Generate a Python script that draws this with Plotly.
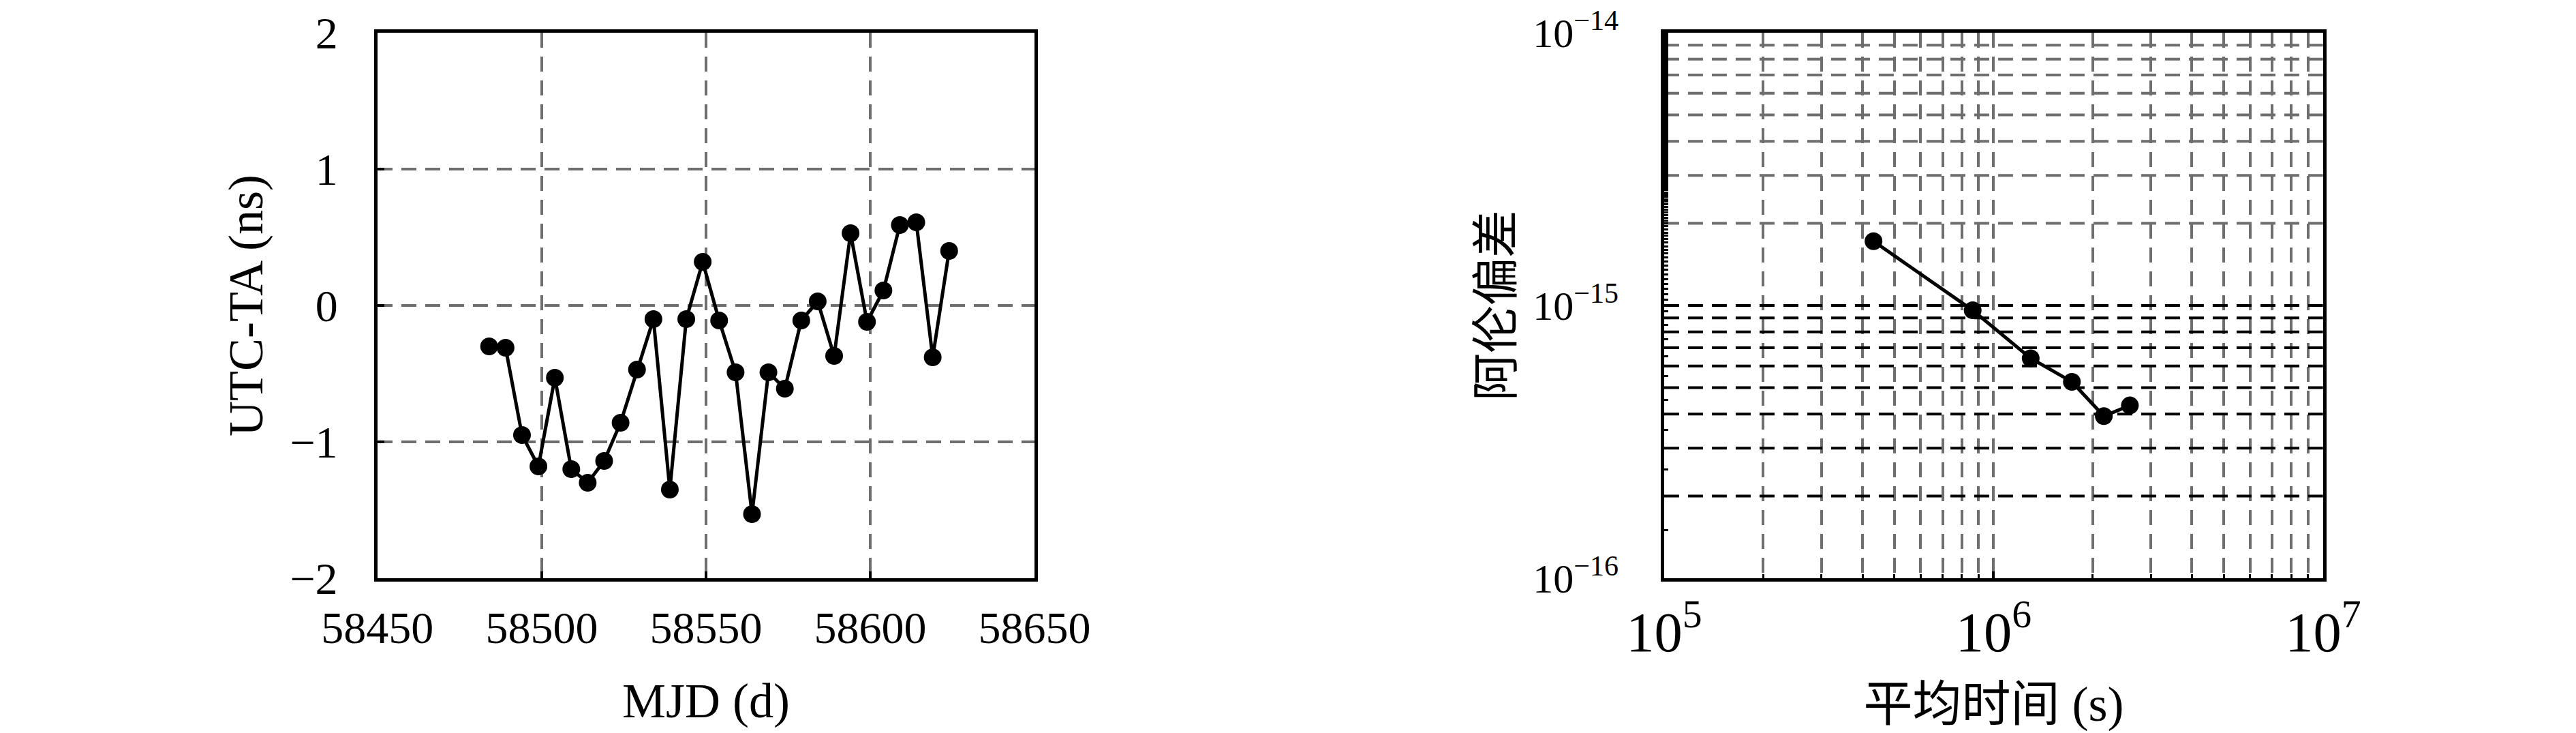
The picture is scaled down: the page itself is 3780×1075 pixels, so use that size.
import plotly.graph_objects as go

# left panel: UTC-TA vs MJD
mjd = [58484, 58489, 58494, 58499, 58504, 58509, 58514, 58519, 58524, 58529,
       58534, 58539, 58544, 58549, 58554, 58559, 58564, 58569, 58574, 58579,
       58584, 58589, 58594, 58599, 58604, 58609, 58614, 58619, 58624]
utc_ta = [-0.30, -0.31, -0.95, -1.18, -0.53, -1.20, -1.30, -1.14, -0.86, -0.47,
          -0.10, -1.35, -0.10, 0.32, -0.11, -0.49, -1.53, -0.49, -0.61, -0.11,
          0.03, -0.37, 0.53, -0.12, 0.11, 0.59, 0.61, -0.38, 0.40]

# right panel: Allan deviation vs averaging time
tau = [4.32e5, 8.64e5, 1.296e6, 1.728e6, 2.16e6, 2.592e6]
adev = [1.72e-15, 9.6e-16, 6.4e-16, 5.25e-16, 3.93e-16, 4.3e-16]

y_grid_upper = [2e-15, 3e-15, 4e-15, 5e-15, 6e-15, 7e-15, 8e-15, 9e-15]
y_grid_lower = [2e-16, 3e-16, 4e-16, 5e-16, 6e-16, 7e-16, 8e-16, 9e-16, 1e-15]
y2_ticks = [1e-16, 1e-15, 1e-14]
y2_ticktext = ['10<sup>\u221216</sup>', '10<sup>\u221215</sup>', '10<sup>\u221214</sup>']

font_fam = "Liberation Serif, Noto Sans CJK SC"
grid_gray = "#6e6e6e"
dash = "22px,13px"


def hlines(vals):
    xs, ys = [], []
    for v in vals:
        xs += [1e5, 1e7, None]
        ys += [v, v, None]
    return xs, ys


fig = go.Figure()

fig.add_trace(go.Scatter(x=mjd, y=utc_ta, mode='lines+markers',
                         line=dict(color='black', width=5),
                         marker=dict(color='black', size=26),
                         xaxis='x', yaxis='y', showlegend=False))

gx, gy = hlines(y_grid_upper)
fig.add_trace(go.Scatter(x=gx, y=gy, mode='lines', hoverinfo='skip',
                         line=dict(color=grid_gray, width=4, dash=dash),
                         xaxis='x2', yaxis='y2', showlegend=False))
gx, gy = hlines(y_grid_lower)
fig.add_trace(go.Scatter(x=gx, y=gy, mode='lines', hoverinfo='skip',
                         line=dict(color='black', width=4, dash=dash),
                         xaxis='x2', yaxis='y2', showlegend=False))

fig.add_trace(go.Scatter(x=tau, y=adev, mode='lines+markers',
                         line=dict(color='black', width=5),
                         marker=dict(color='black', size=26),
                         xaxis='x2', yaxis='y2', showlegend=False))

common = dict(showline=True, mirror=True, linecolor='black', linewidth=5,
              ticks='inside', ticklen=10, tickwidth=4, tickcolor='black',
              zeroline=False, automargin=False, ticklabeloverflow='allow',
              tickfont=dict(family=font_fam, size=66, color='black'),
              title_font=dict(family=font_fam, size=72, color='black'))

fig.update_layout(
    width=3780, height=1075,
    margin=dict(l=0, r=0, t=0, b=0),
    paper_bgcolor='white', plot_bgcolor='white',
    font=dict(family=font_fam, color='black'),
    xaxis=dict(domain=[0.1444, 0.3995], range=[58450, 58650], dtick=50,
               tickformat='d',
               showgrid=True, gridcolor=grid_gray, gridwidth=4, griddash=dash,
               ticklabelstandoff=11, title=dict(text='MJD (d)', standoff=47),
               anchor='y', **common),
    yaxis=dict(domain=[0.2186, 0.9628], range=[-2, 2], dtick=1,
               showgrid=True, gridcolor=grid_gray, gridwidth=4, griddash=dash,
               ticklabelstandoff=40, title=dict(text='UTC-TA (ns)', standoff=18),
               anchor='x', **common),
    xaxis2=dict(domain=[0.6439, 0.8997], type='log', range=[5, 7], dtick=1,
                exponentformat='power',
                showgrid=True, gridcolor=grid_gray, gridwidth=4, griddash=dash,
                minor=dict(showgrid=True, gridcolor=grid_gray, gridwidth=4,
                           griddash=dash, ticks='inside', ticklen=6,
                           tickcolor='black', tickwidth=3),
                ticklabelstandoff=6, title=dict(text='平均时间 (s)', standoff=36),
                anchor='y2', **common),
    yaxis2=dict(domain=[0.2186, 0.9628], type='log', range=[-16, -14],
                tickvals=y2_ticks, ticktext=y2_ticktext, showgrid=False,
                minor=dict(showgrid=False, ticks='inside', ticklen=6,
                           tickcolor='black', tickwidth=3),
                ticklabelstandoff=50, anchor='x2', **common),
)
fig.update_yaxes(tickfont_size=60, selector=dict(anchor='x2'))

fig.add_annotation(text='阿伦偏差', xref='paper', yref='paper',
                   x=0.5791, y=0.5907, textangle=-90, showarrow=False,
                   xanchor='center', yanchor='middle',
                   font=dict(family=font_fam, size=70, color='black'))

fig.write_html("out.html")
